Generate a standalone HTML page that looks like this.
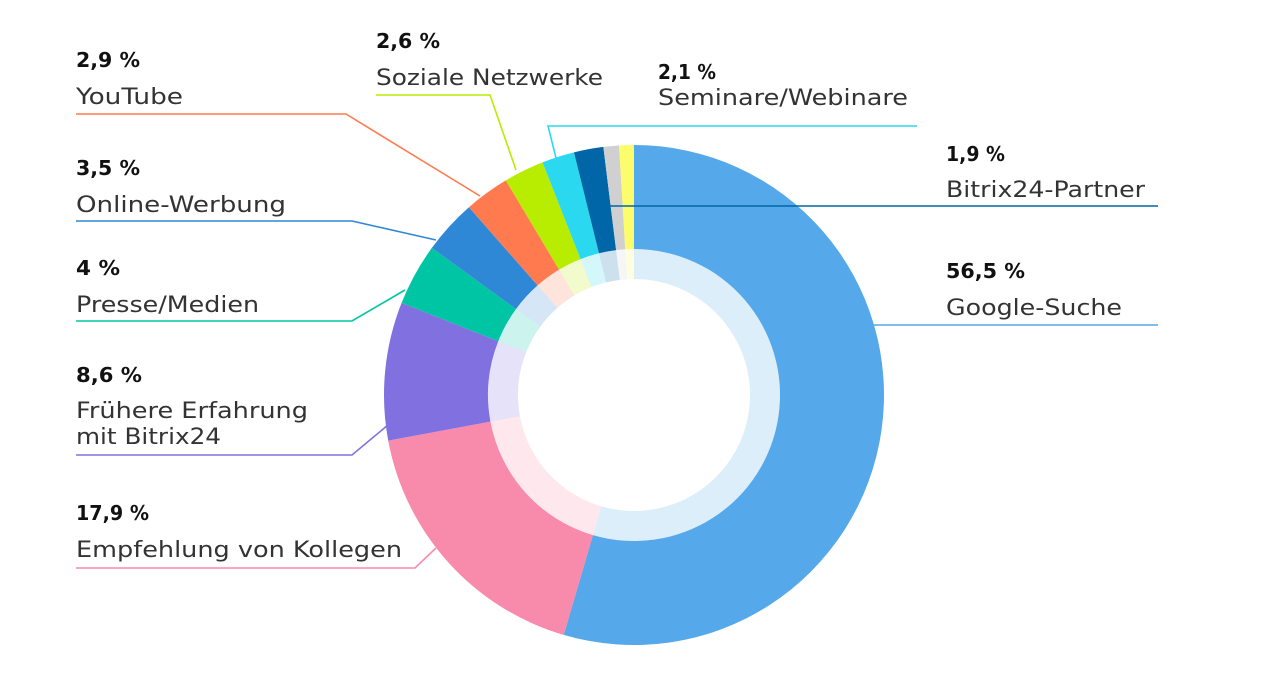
<!DOCTYPE html>
<html><head><meta charset="utf-8"><style>
body{margin:0;background:#fff;width:1269px;height:674px;overflow:hidden}
svg{display:block}
text{font-family:"DejaVu Sans","Liberation Sans",sans-serif}
.p{font-weight:bold;font-size:20px;fill:#111}
.l{font-size:22px;fill:#333}
</style></head><body>
<svg id="s" width="1269" height="674" viewBox="0 0 1269 674">
<g id="donut"></g>
<g fill="none" stroke-width="1.6">
<polyline points="76,114 346,114 480,196" stroke="#ff7a4e"/>
<polyline points="76,221 352,221 436,240" stroke="#2f88d6"/>
<polyline points="76,321 352,321 405,290" stroke="#00c5a4"/>
<polyline points="76,455 352,455 388,425" stroke="#8070e0"/>
<polyline points="76,568 415,568 436,548" stroke="#f88aab"/>
<polyline points="376,95 490,95 516,170" stroke="#b8ec00"/>
<polyline points="917,126 548,126 556,158" stroke="#2ad9f0"/>
<polyline points="1158,206 610,206" stroke="#0066a8"/>
<polyline points="1158,325 874,325" stroke="#55a8ea"/>
</g>
<text class="p" x="76" y="67" textLength="64" lengthAdjust="spacingAndGlyphs">2,9 %</text><text class="l" x="76" y="104" textLength="107" lengthAdjust="spacingAndGlyphs">YouTube</text>
<text class="p" x="76" y="175" textLength="64" lengthAdjust="spacingAndGlyphs">3,5 %</text><text class="l" x="76" y="212" textLength="210" lengthAdjust="spacingAndGlyphs">Online-Werbung</text>
<text class="p" x="76" y="275" textLength="44" lengthAdjust="spacingAndGlyphs">4 %</text><text class="l" x="76" y="312" textLength="183" lengthAdjust="spacingAndGlyphs">Presse/Medien</text>
<text class="p" x="76" y="382" textLength="66" lengthAdjust="spacingAndGlyphs">8,6 %</text><text class="l" x="76" y="418" textLength="232" lengthAdjust="spacingAndGlyphs">Frühere Erfahrung</text><text class="l" x="76" y="444" textLength="145" lengthAdjust="spacingAndGlyphs">mit Bitrix24</text>
<text class="p" x="76" y="520" textLength="73" lengthAdjust="spacingAndGlyphs">17,9 %</text><text class="l" x="76" y="557" textLength="326" lengthAdjust="spacingAndGlyphs">Empfehlung von Kollegen</text>
<text class="p" x="376" y="48" textLength="64" lengthAdjust="spacingAndGlyphs">2,6 %</text><text class="l" x="376" y="85" textLength="227" lengthAdjust="spacingAndGlyphs">Soziale Netzwerke</text>
<text class="p" x="658" y="79" textLength="58" lengthAdjust="spacingAndGlyphs">2,1 %</text><text class="l" x="658" y="105" textLength="250" lengthAdjust="spacingAndGlyphs">Seminare/Webinare</text>
<text class="p" x="946" y="161" textLength="59" lengthAdjust="spacingAndGlyphs">1,9 %</text><text class="l" x="946" y="197" textLength="199" lengthAdjust="spacingAndGlyphs">Bitrix24-Partner</text>
<text class="p" x="946" y="278" textLength="79" lengthAdjust="spacingAndGlyphs">56,5 %</text><text class="l" x="946" y="315" textLength="176" lengthAdjust="spacingAndGlyphs">Google-Suche</text>
</svg>
<script>
var d=[[54.4,"#55a8ea"],[17.5,"#f88aab"],[8.9,"#8070e0"],[4,"#00c5a4"],[3.5,"#2f88d6"],[2.9,"#ff7a4e"],[2.6,"#b8ec00"],[2.1,"#2ad9f0"],[1.9,"#0066a8"],[1.0,"#d0d0d0"],[0.95,"#fdfc6a"]];
var tot=0;d.forEach(function(x){tot+=x[0]});
var cx=634,cy=395,g=document.getElementById("donut"),a=0,h="";
function pt(r,t){return (cx+r*Math.sin(t)).toFixed(2)+","+(cy-r*Math.cos(t)).toFixed(2)}
function arc(r1,r2,t0,t1){var L=(t1-t0)>Math.PI?1:0;return "M"+pt(r2,t0)+"A"+r2+","+r2+" 0 "+L+" 1 "+pt(r2,t1)+"L"+pt(r1,t1)+"A"+r1+","+r1+" 0 "+L+" 0 "+pt(r1,t0)+"Z"}
d.forEach(function(x){var b=a+x[0]/tot*2*Math.PI;
h+='<path d="'+arc(146,250,a,b)+'" fill="'+x[1]+'"/>';
h+='<path d="'+arc(116,146,a,b)+'" fill="'+x[1]+'" fill-opacity="0.2"/>';a=b;});
g.innerHTML=h;
</script>
</body></html>
